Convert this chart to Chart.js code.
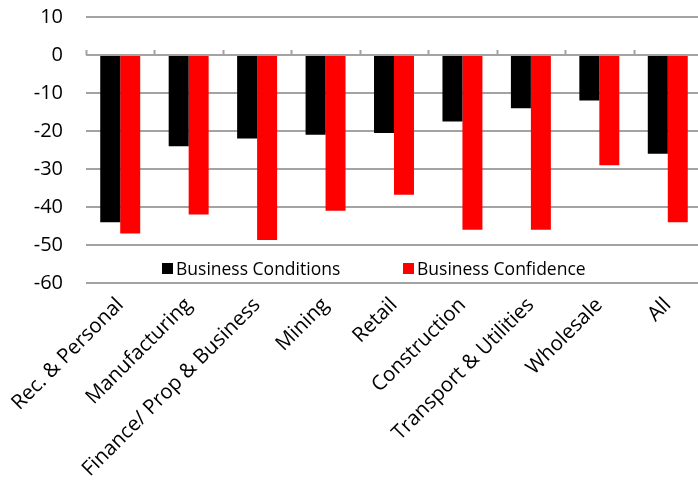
<!DOCTYPE html>
<html>
<head>
<meta charset="utf-8">
<script src="https://cdn.jsdelivr.net/npm/chart.js@4"></script>
<style>
  html, body { margin: 0; padding: 0; background: #fff; overflow: hidden; }
  #wrap { position: relative; width: 702px; height: 483px; }
  .legend { position: absolute; top: 256px; font-family: "Open Sans", sans-serif; font-size: 17.5px; color: #000; display: flex; align-items: center; white-space: nowrap; }
  .legend span.box { display: inline-block; width: 11px; height: 11px; margin-right: 3px; }
</style>
</head>
<body>
<div id="wrap">
  <canvas id="chart" width="702" height="483"></canvas>
  <div class="legend" id="leg1" style="left:162px"><span class="box" style="background:#000"></span>Business Conditions</div>
  <div class="legend" id="leg2" style="left:403px"><span class="box" style="background:#ff0000"></span>Business Confidence</div>
</div>
<script>
const categories = ['Rec. & Personal', 'Manufacturing', 'Finance/ Prop & Business', 'Mining', 'Retail',
  'Construction', 'Transport & Utilities', 'Wholesale', 'All'];
const conditions = [-44, -24, -22, -21, -20.5, -17.5, -14, -12, -26];
const confidence = [-47, -42, -48.7, -41, -36.8, -46, -46, -29, -44];
const yTicks = [10, 0, -10, -20, -30, -40, -50, -60];

const gridGray = '#a3a3a3';
const font = '"Open Sans", sans-serif';

// little tick marks sitting on the zero line at the category boundaries
const zeroTicks = {
  id: 'zeroTicks',
  afterDatasetsDraw(chart) {
    const x = chart.scales.x, y = chart.scales.y;
    const y0 = y.getPixelForValue(0);
    const half = (x.getPixelForValue(1) - x.getPixelForValue(0)) / 2;
    const ctx = chart.ctx;
    ctx.save();
    ctx.strokeStyle = gridGray;
    ctx.lineWidth = 2;
    ctx.beginPath();
    ctx.moveTo(x.left, y0);
    ctx.lineTo(x.right, y0);
    for (let i = 0; i <= categories.length; i++) {
      const px = Math.round(x.getPixelForValue(i) - half) + 0.5;
      ctx.moveTo(px, y0);
      ctx.lineTo(px, y0 - 5);
    }
    ctx.stroke();
    ctx.restore();
  }
};

new Chart(document.getElementById('chart'), {
  type: 'bar',
  data: {
    labels: categories,
    datasets: [
      { label: 'Business Conditions', data: conditions, backgroundColor: '#000000' },
      { label: 'Business Confidence', data: confidence, backgroundColor: '#ff0000' }
    ]
  },
  options: {
    responsive: false,
    animation: false,
    layout: { padding: { top: 17, left: 0, right: 0, bottom: 0 } },
    datasets: { bar: { categoryPercentage: 0.584, barPercentage: 1 } },
    plugins: { legend: { display: false }, tooltip: { enabled: false } },
    scales: {
      x: {
        grid: { display: false },
        border: { display: false },
        ticks: {
          minRotation: 45, maxRotation: 45, padding: 2,
          color: '#000', font: { family: font, size: 20.5 }
        },
        afterFit(s) { s.height = 200; s.paddingLeft = 0; s.paddingRight = 0; }
      },
      y: {
        min: -60, max: 10,
        afterBuildTicks(s) { s.ticks = yTicks.map(v => ({ value: v })); },
        grid: { color: gridGray, lineWidth: 2, drawTicks: false },
        border: { display: false },
        ticks: { padding: 23, color: '#000', font: { family: font, size: 20 } },
        afterFit(s) { s.width = 86; s.paddingTop = 0; s.paddingBottom = 0; }
      }
    }
  },
  plugins: [zeroTicks]
});
</script>
</body>
</html>
